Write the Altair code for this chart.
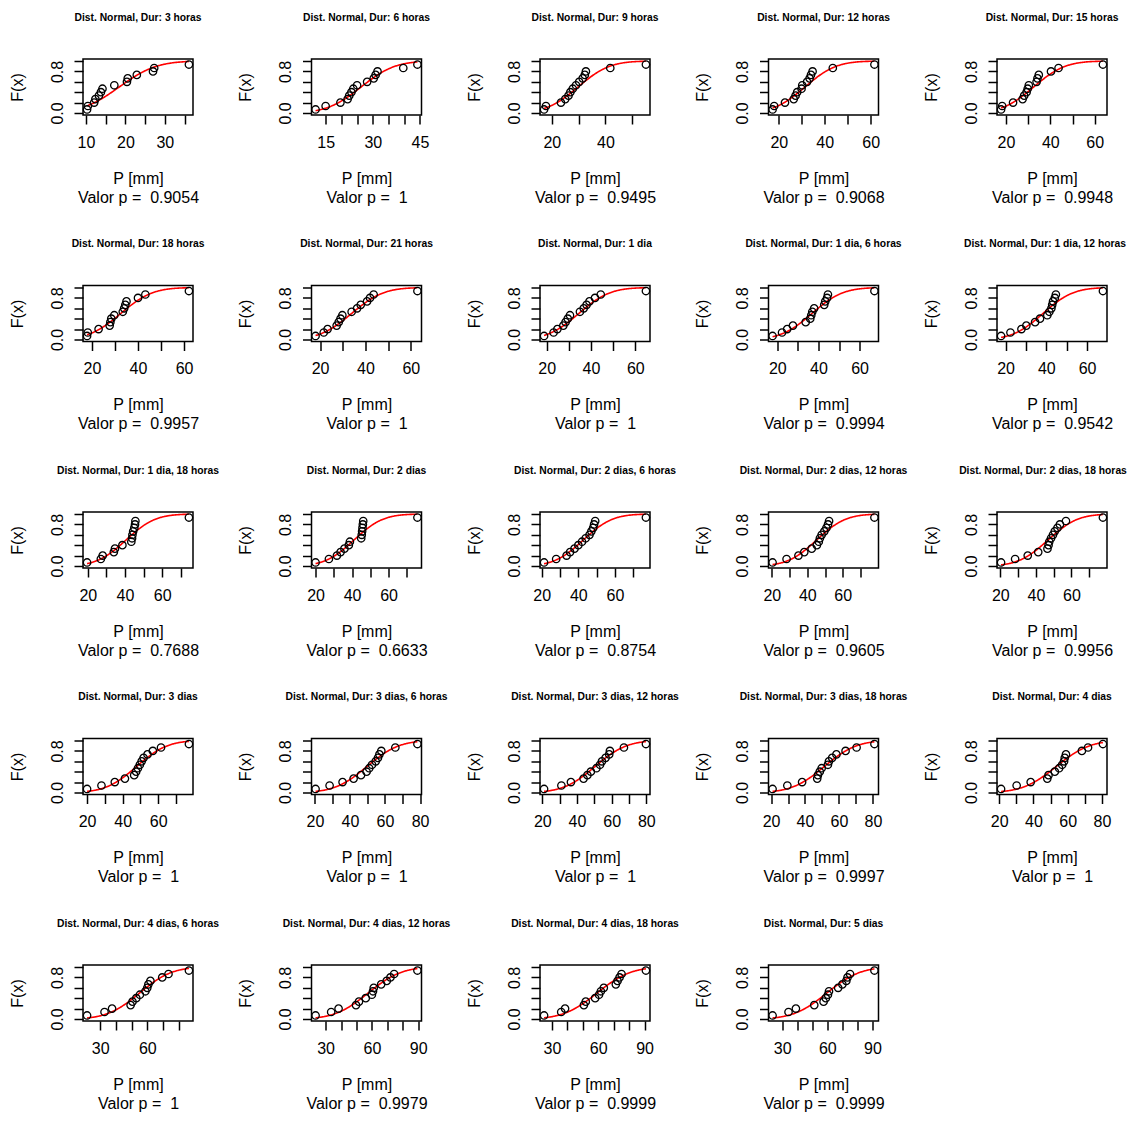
import math
import numpy as np
import pandas as pd
import altair as alt

FONT = "Liberation Sans"

titles = [
    "Dist. Normal, Dur: 3 horas", "Dist. Normal, Dur: 6 horas", "Dist. Normal, Dur: 9 horas",
    "Dist. Normal, Dur: 12 horas", "Dist. Normal, Dur: 15 horas", "Dist. Normal, Dur: 18 horas",
    "Dist. Normal, Dur: 21 horas", "Dist. Normal, Dur: 1 dia", "Dist. Normal, Dur: 1 dia, 6 horas",
    "Dist. Normal, Dur: 1 dia, 12 horas", "Dist. Normal, Dur: 1 dia, 18 horas", "Dist. Normal, Dur: 2 dias",
    "Dist. Normal, Dur: 2 dias, 6 horas", "Dist. Normal, Dur: 2 dias, 12 horas", "Dist. Normal, Dur: 2 dias, 18 horas",
    "Dist. Normal, Dur: 3 dias", "Dist. Normal, Dur: 3 dias, 6 horas", "Dist. Normal, Dur: 3 dias, 12 horas",
    "Dist. Normal, Dur: 3 dias, 18 horas", "Dist. Normal, Dur: 4 dias", "Dist. Normal, Dur: 4 dias, 6 horas",
    "Dist. Normal, Dur: 4 dias, 12 horas", "Dist. Normal, Dur: 4 dias, 18 horas", "Dist. Normal, Dur: 5 dias",
]

p_values = [0.9054, 1, 0.9495, 0.9068, 0.9948, 0.9957, 1, 1, 0.9994, 0.9542, 0.7688, 0.6633,
            0.8754, 0.9605, 0.9956, 1, 1, 1, 0.9997, 1, 1, 0.9979, 0.9999, 0.9999]

precip = [
    [10.3, 10.5, 12.1, 12.4, 13.3, 13.8, 14.2, 17.2, 20.4, 20.6, 22.9, 27.0, 27.3, 36.1],
    [11.8, 15.0, 19.7, 22.0, 22.5, 23.2, 23.8, 25.0, 28.2, 30.3, 30.9, 31.5, 39.7, 44.2],
    [17.1, 17.8, 23.4, 25.0, 26.2, 26.9, 27.8, 29.0, 30.2, 31.5, 32.3, 32.7, 41.8, 55.1],
    [17.3, 18.0, 22.7, 26.5, 27.3, 28.0, 29.9, 30.2, 32.3, 33.4, 34.0, 34.7, 43.5, 61.6],
    [17.8, 18.3, 23.2, 27.5, 28.2, 29.3, 29.8, 30.3, 33.8, 34.2, 34.8, 40.3, 43.7, 63.7],
    [17.9, 18.2, 22.9, 27.7, 28.0, 28.4, 29.7, 33.4, 34.0, 34.5, 35.0, 40.0, 43.2, 62.1],
    [18.0, 21.6, 23.3, 27.3, 28.2, 29.0, 29.8, 33.9, 36.3, 37.9, 40.7, 42.0, 43.6, 62.9],
    [18.8, 23.1, 24.8, 27.5, 28.5, 29.5, 30.5, 35.0, 36.7, 38.0, 39.3, 41.8, 44.4, 64.8],
    [17.7, 22.3, 24.8, 27.6, 33.8, 36.0, 36.5, 37.0, 37.9, 42.8, 43.3, 44.2, 44.6, 67.2],
    [17.8, 22.4, 27.8, 30.2, 34.5, 36.9, 40.5, 41.5, 42.5, 42.9, 43.3, 44.2, 44.7, 67.8],
    [19.6, 27.0, 28.0, 34.0, 34.6, 38.6, 43.4, 43.8, 44.0, 44.4, 45.0, 45.4, 45.6, 74.4],
    [20.0, 27.3, 31.7, 33.7, 35.8, 38.2, 38.8, 45.0, 45.3, 45.5, 45.7, 45.9, 46.1, 75.8],
    [21.3, 27.9, 33.6, 35.5, 37.9, 40.0, 42.0, 44.0, 46.1, 47.1, 48.1, 48.6, 49.2, 76.9],
    [20.4, 28.3, 35.0, 38.3, 42.5, 45.4, 46.5, 47.1, 48.1, 49.6, 50.8, 51.7, 52.3, 77.9],
    [20.4, 28.3, 35.4, 41.3, 46.5, 47.1, 47.5, 48.5, 49.6, 50.6, 52.1, 53.5, 56.9, 77.7],
    [20.0, 28.1, 35.6, 41.3, 46.5, 47.6, 48.6, 49.7, 50.7, 51.8, 54.0, 57.0, 61.6, 77.3],
    [20.4, 28.4, 35.8, 42.1, 46.3, 49.5, 51.0, 52.6, 54.7, 56.0, 56.8, 57.9, 65.9, 78.5],
    [21.0, 31.0, 36.5, 43.8, 46.0, 48.0, 51.2, 53.3, 54.4, 56.5, 58.6, 59.0, 67.1, 79.8],
    [20.9, 29.6, 38.3, 47.2, 47.6, 48.7, 49.8, 53.5, 54.1, 56.0, 58.5, 63.9, 70.4, 80.9],
    [21.1, 30.2, 38.4, 48.1, 48.8, 52.5, 55.0, 56.8, 57.9, 58.3, 59.0, 68.3, 71.9, 80.6],
    [21.7, 32.8, 37.6, 49.4, 50.6, 53.0, 55.3, 58.8, 60.0, 60.7, 62.0, 69.5, 73.5, 86.5],
    [23.5, 33.6, 38.4, 49.7, 51.6, 56.0, 60.0, 60.7, 61.2, 66.0, 69.6, 72.0, 74.4, 89.5],
    [24.9, 36.0, 38.5, 50.7, 51.9, 58.0, 60.5, 61.7, 63.6, 71.4, 72.5, 73.8, 75.1, 90.9],
    [23.6, 34.2, 39.1, 51.3, 57.5, 59.0, 60.4, 61.1, 67.2, 70.0, 72.6, 73.4, 75.1, 91.3],
]

ticks_a = [20, 30, 40, 50, 60]
ticks_b = [20, 30, 40, 50, 60, 70]
ticks_c = [20, 30, 40, 50, 60, 70, 80]
x_ticks = [
    [10, 15, 20, 25, 30, 35], [15, 20, 25, 30, 35, 40, 45], [20, 30, 40, 50],
    ticks_a, ticks_a, ticks_a, ticks_a, ticks_a, ticks_a, ticks_a,
    ticks_b, ticks_b, ticks_b, ticks_b, ticks_b, ticks_b,
    ticks_c, ticks_c, ticks_c, ticks_c,
    [30, 40, 50, 60, 70, 80], [30, 40, 50, 60, 70, 80, 90],
    [30, 40, 50, 60, 70, 80, 90], [30, 40, 50, 60, 70, 80, 90],
]
x_labels = [
    [10, 20, 30], [15, 30, 45], [20, 40],
    [20, 40, 60], [20, 40, 60], [20, 40, 60], [20, 40, 60], [20, 40, 60], [20, 40, 60], [20, 40, 60],
    [20, 40, 60], [20, 40, 60], [20, 40, 60], [20, 40, 60], [20, 40, 60], [20, 40, 60],
    [20, 40, 60, 80], [20, 40, 60, 80], [20, 40, 60, 80], [20, 40, 60, 80],
    [30, 60], [30, 60, 90], [30, 60, 90], [30, 60, 90],
]
y_ticks = [0.0, 0.2, 0.4, 0.6, 0.8, 1.0]

W, H = 110, 56
NBSP = "\u00a0"
# keep the two longest right-hand titles inside the page edge
title_nudge = {9: -7, 14: -9}


def panel(i):
    xs = sorted(precip[i])
    n = len(xs)
    pts = pd.DataFrame({"P": xs, "F": [(k + 1) / (n + 1) for k in range(n)]})
    mu = float(np.mean(xs))
    sd = float(np.std(xs))
    grid = np.linspace(xs[0], xs[-1], 150)
    cdf = [0.5 * (1 + math.erf((g - mu) / (sd * math.sqrt(2)))) for g in grid]
    curve = pd.DataFrame({"P": grid, "F": cdf})
    lo, hi = xs[0], xs[-1]
    pad = 0.04 * (hi - lo)
    xs_scale = alt.Scale(domain=[lo - pad, hi + pad], nice=False, zero=False)
    ys_scale = alt.Scale(domain=[-0.04, 1.04], nice=False, zero=False)
    xaxis = alt.Axis(
        values=x_ticks[i],
        labelExpr=f"indexof({x_labels[i]}, datum.value) >= 0 ? datum.label : ''",
        title=["P [mm]", f"Valor p ={NBSP}{NBSP}{p_values[i]:g}"],
        titleX=W / 2, titleY=55, titleAlign="center", titleBaseline="top",
        titleLineHeight=19, titleAngle=0,
        labelPadding=10, labelBaseline="top", labelAlign="center",
    )
    yaxis = alt.Axis(
        values=y_ticks, format=".1f",
        labelExpr="(datum.value == 0 || datum.value == 0.8) ? datum.label : ''",
        title="F(x)", titleX=-66, titleY=H / 2, titleAngle=270,
        titleAlign="center", titleBaseline="middle",
        labelAngle=270, labelAlign="center", labelBaseline="middle", labelPadding=17,
    )
    line = alt.Chart(curve).mark_line(color="#FF0000", strokeWidth=1.6).encode(
        x=alt.X("P:Q", scale=xs_scale, axis=xaxis),
        y=alt.Y("F:Q", scale=ys_scale, axis=yaxis),
    )
    dots = alt.Chart(pts).mark_point(shape="circle", filled=False, color="black",
                                     size=55, strokeWidth=1.3, opacity=1).encode(
        x=alt.X("P:Q", scale=xs_scale, axis=xaxis),
        y=alt.Y("F:Q", scale=ys_scale, axis=yaxis),
    )
    return alt.layer(line, dots).properties(
        width=W, height=H,
        title=alt.Title(titles[i], fontSize=10.3, fontWeight="bold", font=FONT, color="black",
                        anchor="middle", frame="group", offset=35, dx=title_nudge.get(i, 0)),
    )


chart = alt.concat(*[panel(i) for i in range(24)], columns=5,
                   spacing={"row": 170.5, "column": 118.5}, bounds="flush").properties(
    padding={"left": 0, "top": 3, "right": 0, "bottom": 0},
    background="white",
).configure_view(stroke="black", strokeWidth=1.5).configure_axis(
    domain=False, grid=False, tickColor="black", tickWidth=1.5, tickSize=9,
    labelFont=FONT, labelFontSize=16, labelColor="black",
    labelOverlap=False, labelFlush=False, labelBound=False,
    titleFont=FONT, titleFontSize=16, titleFontWeight="normal", titleColor="black",
)

chart.save("out.html", embed_options={"renderer": "svg", "actions": False})
